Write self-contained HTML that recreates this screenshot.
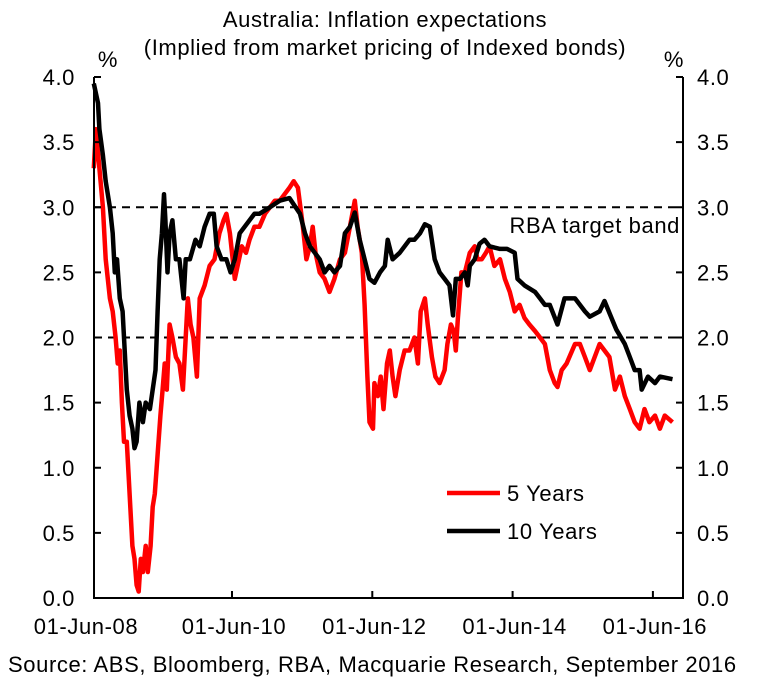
<!DOCTYPE html>
<html><head><meta charset="utf-8"><style>
body{margin:0;background:#fff}
svg text{font-family:"Liberation Sans",Arial,sans-serif;fill:#000;letter-spacing:0.6px}
</style></head><body>
<svg id="chart" width="773" height="694" viewBox="0 0 773 694">
<text x="385" y="27" font-size="22" text-anchor="middle">Australia: Inflation expectations</text>
<text x="385" y="55" font-size="22" text-anchor="middle">(Implied from market pricing of Indexed bonds)</text>
<text x="108" y="67" font-size="22" text-anchor="middle">%</text>
<text x="674" y="67" font-size="22" text-anchor="middle">%</text>
<g id="grid"></g>
<g id="series"></g>
<g id="axes"></g>
<text x="680" y="233" font-size="22" text-anchor="end">RBA target band</text>
<g>
<line x1="447" y1="493" x2="500" y2="493" stroke="#f00" stroke-width="4.5"/>
<text x="507" y="501" font-size="22">5 Years</text>
<line x1="447" y1="531" x2="500" y2="531" stroke="#000" stroke-width="4.5"/>
<text x="507" y="539" font-size="22">10 Years</text>
</g>
<text x="8" y="672" font-size="22">Source: ABS, Bloomberg, RBA, Macquarie Research, September 2016</text>
</svg>
<script>
// years since 01-Jun-08
const yTicks=[0,0.5,1,1.5,2,2.5,3,3.5,4];
const xTickYears=[0,2,4,6,8];
const xTickLabels=["01-Jun-08","01-Jun-10","01-Jun-12","01-Jun-14","01-Jun-16"];
const bandLevels=[2,3];
const tenYrDates=[0.03,0.09,0.11,0.16,0.20,0.26,0.30,0.33,0.36,0.40,0.44,0.47,0.50,0.54,0.58,0.61,0.64,0.68,0.73,0.77,0.83,0.87,0.91,0.94,0.97,1.00,1.03,1.05,1.08,1.11,1.15,1.20,1.25,1.31,1.34,1.40,1.48,1.54,1.61,1.68,1.74,1.78,1.85,1.92,1.98,2.04,2.11,2.18,2.25,2.32,2.39,2.54,2.68,2.82,2.97,3.04,3.11,3.18,3.25,3.32,3.39,3.46,3.54,3.61,3.68,3.75,3.82,3.89,3.96,4.03,4.11,4.18,4.22,4.29,4.39,4.46,4.53,4.60,4.68,4.75,4.82,4.89,4.96,5.03,5.10,5.15,5.19,5.25,5.32,5.36,5.39,5.46,5.53,5.60,5.67,5.74,5.82,5.92,6.03,6.07,6.17,6.32,6.39,6.46,6.53,6.64,6.74,6.89,7.03,7.10,7.24,7.31,7.41,7.48,7.60,7.67,7.74,7.81,7.84,7.93,8.03,8.10,8.28];
const tenYrValues=[3.95,3.8,3.6,3.4,3.2,3.0,2.8,2.5,2.6,2.3,2.2,1.9,1.6,1.4,1.3,1.15,1.2,1.5,1.35,1.5,1.45,1.6,1.75,2.2,2.6,2.8,3.1,2.9,2.5,2.8,2.9,2.6,2.6,2.3,2.6,2.6,2.75,2.7,2.85,2.95,2.95,2.7,2.6,2.6,2.5,2.6,2.8,2.85,2.9,2.95,2.95,3.0,3.05,3.07,2.95,2.8,2.7,2.65,2.6,2.5,2.55,2.5,2.55,2.8,2.85,2.96,2.75,2.6,2.45,2.42,2.5,2.55,2.75,2.6,2.65,2.7,2.75,2.75,2.8,2.87,2.85,2.6,2.5,2.45,2.4,2.17,2.45,2.45,2.5,2.4,2.55,2.6,2.72,2.75,2.7,2.69,2.68,2.68,2.65,2.45,2.4,2.35,2.3,2.25,2.25,2.1,2.3,2.3,2.2,2.16,2.2,2.28,2.15,2.06,1.95,1.85,1.75,1.75,1.6,1.7,1.65,1.7,1.68];
const fiveYrDates=[0.03,0.06,0.11,0.16,0.20,0.26,0.30,0.34,0.37,0.40,0.43,0.46,0.50,0.53,0.56,0.58,0.61,0.64,0.67,0.70,0.73,0.77,0.80,0.84,0.87,0.90,0.94,0.98,1.01,1.04,1.07,1.11,1.15,1.20,1.25,1.30,1.34,1.37,1.41,1.45,1.50,1.54,1.61,1.68,1.75,1.82,1.88,1.92,1.97,2.00,2.04,2.08,2.14,2.20,2.25,2.32,2.39,2.47,2.54,2.61,2.68,2.75,2.82,2.88,2.94,3.01,3.06,3.11,3.15,3.19,3.25,3.32,3.39,3.46,3.54,3.61,3.68,3.75,3.79,3.85,3.89,3.93,3.96,4.01,4.03,4.08,4.12,4.16,4.21,4.25,4.29,4.33,4.39,4.46,4.53,4.60,4.65,4.69,4.75,4.79,4.85,4.90,4.96,5.03,5.07,5.12,5.16,5.19,5.22,5.27,5.32,5.39,5.46,5.50,5.56,5.62,5.67,5.74,5.82,5.89,5.96,6.03,6.10,6.17,6.24,6.32,6.39,6.46,6.53,6.60,6.64,6.70,6.77,6.89,6.96,7.03,7.10,7.17,7.24,7.31,7.38,7.46,7.53,7.60,7.67,7.74,7.81,7.88,7.95,8.03,8.10,8.17,8.28];
const fiveYrValues=[3.3,3.6,3.3,3.0,2.6,2.3,2.2,2.0,1.8,1.9,1.5,1.2,1.2,0.9,0.6,0.4,0.3,0.1,0.05,0.3,0.2,0.4,0.2,0.4,0.7,0.8,1.1,1.4,1.6,1.8,1.6,2.1,2.0,1.85,1.8,1.6,2.0,2.3,2.1,2.0,1.7,2.3,2.4,2.55,2.6,2.8,2.9,2.95,2.8,2.65,2.45,2.55,2.7,2.65,2.75,2.85,2.85,2.95,3.0,3.05,3.05,3.1,3.15,3.2,3.15,2.85,2.6,2.7,2.85,2.65,2.5,2.45,2.35,2.45,2.6,2.65,2.85,3.05,2.85,2.65,2.25,1.7,1.35,1.3,1.65,1.55,1.7,1.45,1.8,1.9,1.7,1.55,1.75,1.9,1.9,2.0,1.8,2.2,2.3,2.1,1.85,1.7,1.65,1.75,1.95,2.1,2.05,1.9,2.15,2.5,2.5,2.65,2.7,2.6,2.6,2.65,2.7,2.55,2.6,2.45,2.35,2.2,2.25,2.15,2.1,2.05,2.0,1.95,1.75,1.65,1.62,1.75,1.8,1.95,1.95,1.85,1.75,1.85,1.95,1.9,1.85,1.6,1.7,1.55,1.45,1.35,1.3,1.45,1.35,1.4,1.3,1.4,1.35];

const L=94,R=683,T=77,B=598;
const xS=t=>91.7+t*70.15;
const yS=v=>B-v*(B-T)/4;
const NS="http://www.w3.org/2000/svg";
function mk(tag,attrs,parent){const e=document.createElementNS(NS,tag);for(const k in attrs)e.setAttribute(k,attrs[k]);parent.appendChild(e);return e;}
const grid=document.getElementById('grid'),ser=document.getElementById('series'),ax=document.getElementById('axes');
bandLevels.forEach(v=>{
  const l=mk('line',{x1:L,x2:R,y1:yS(v),y2:yS(v),stroke:'#000','stroke-width':2,'stroke-dasharray':'8,6'},grid);
  
  
});
function path(d,v,color,name){
  const p=mk('path',{d:d.map((t,i)=>(i?'L':'M')+xS(t).toFixed(1)+','+yS(v[i]).toFixed(1)).join(''),fill:'none',stroke:color,'stroke-width':4.5,'stroke-linejoin':'round'},ser);
  
  
}
path(fiveYrDates,fiveYrValues,'#f00','series-5-years');
path(tenYrDates,tenYrValues,'#000','series-10-years');
const frame=mk('path',{d:`M${L},${T}V${B}H${R}V${T}`,fill:'none',stroke:'#000','stroke-width':2},ax);


yTicks.forEach(v=>{
  const y=yS(v);
  mk('line',{x1:L,x2:L+7,y1:y,y2:y,stroke:'#000','stroke-width':2},ax);
  mk('line',{x1:R-7,x2:R,y1:y,y2:y,stroke:'#000','stroke-width':2},ax);
  const a=mk('text',{x:L-19,y:y+8,'font-size':22,'text-anchor':'end'},ax);a.textContent=v.toFixed(1);
  
  
  const b=mk('text',{x:R+14,y:y+8,'font-size':22},ax);b.textContent=v.toFixed(1);
  
  
});
xTickYears.forEach((t,i)=>{
  const x=xS(t);
  if(i>0)mk('line',{x1:x,x2:x,y1:B,y2:B-7,stroke:'#000','stroke-width':2},ax);
  const tx=mk('text',{x:i==0?86:x+2,y:634,'font-size':22,'text-anchor':'middle'},ax);tx.textContent=xTickLabels[i];
  
  
});
</script>
</body></html>
